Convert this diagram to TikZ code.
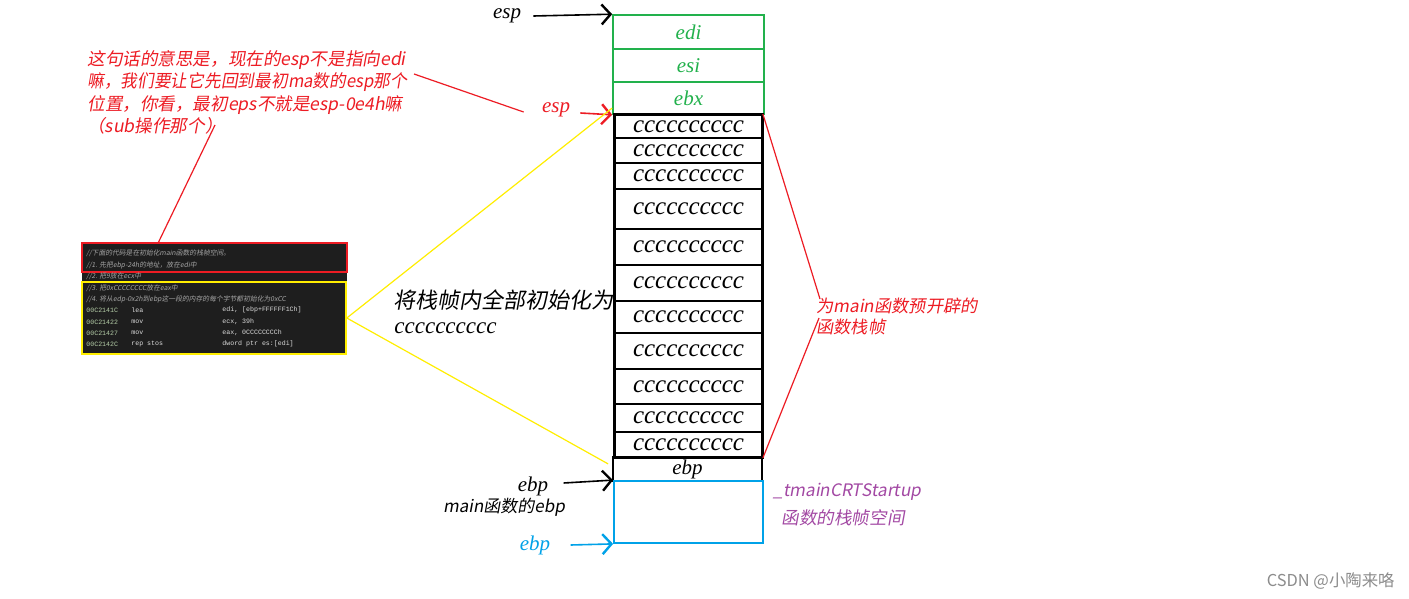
\documentclass[tikz,border=0pt]{standalone}
\usepackage{fontspec}
\setmainfont{Liberation Serif}
\newfontfamily\cjk[FakeSlant=0.18]{Noto Sans CJK SC}
\newfontfamily\cjkup{Noto Sans CJK SC}
\newfontfamily\mono{Liberation Mono}
\usetikzlibrary{arrows.meta,fit,calc}
\definecolor{pgreen}{RGB}{34,177,76}
\definecolor{pblue}{RGB}{0,162,232}
\definecolor{ppurple}{RGB}{163,73,164}
\definecolor{pyellow}{RGB}{255,238,0}
\definecolor{pred}{RGB}{237,28,36}
\definecolor{codebg}{RGB}{30,30,30}
\definecolor{codecmt}{RGB}{165,165,165}
\definecolor{codeaddr}{RGB}{181,206,168}
\definecolor{codetxt}{RGB}{220,220,220}
\definecolor{wm}{RGB}{140,140,140}
\begin{document}
\begin{tikzpicture}[x=0.5pt,y=-0.5pt,
  greenbox/.style={draw=pgreen,line width=0.8pt,minimum width=75.5pt,inner sep=0pt,text=pgreen,font=\itshape\fontsize{10.5}{12}\selectfont},
  ccbox/.style={draw=black,line width=0.9pt,minimum width=73.5pt,inner sep=0pt,font=\itshape\fontsize{12.5}{13}\selectfont},
  lab/.style={inner sep=0pt,font=\itshape\fontsize{10.5}{12}\selectfont},
  cjklab/.style={inner sep=0pt,font=\cjk\fontsize{8.8}{11.2}\selectfont,align=left},
  ptr/.style={line width=0.8pt,-{Straight Barb[length=4.5pt,width=10pt,line width=1.2pt]}},
  cmt/.style={anchor=west,inner sep=0pt,text=codecmt,font=\cjk\fontsize{3.4}{4}\selectfont},
  cde/.style={anchor=west,inner sep=0pt,font=\mono\fontsize{3.3}{4}\selectfont},
  conn/.style={line width=0.6pt}
]
\useasboundingbox (0,0) rectangle (1409,599);
\fill[white] (0,0) rectangle (1409,599);

% green register boxes
\node[greenbox,minimum height=17pt] (edi) at (688.5,32) {edi};
\node[greenbox,minimum height=16.5pt] (esi) at (688.5,65.5) {esi};
\node[greenbox,minimum height=16pt] (ebx) at (688.5,98) {ebx};

% cccc rows
\foreach \i/\ya/\yb in {1/115/138,2/138/163,3/163/189,4/189/229,5/229/265,6/265/301,7/301/333,8/333/369,9/369/404,10/404/432,11/432/457}
  \node[ccbox,minimum height={(\yb-\ya)*0.5pt}] (r\i) at (688.5,{(\ya+\yb)/2}) {cccccccccc};
\node[fit=(r1)(r11),draw,line width=1.5pt,inner sep=0pt] (frame) {};

% ebp box and caller frame
\node[draw,line width=0.7pt,minimum width=74.5pt,minimum height=12pt,inner sep=0pt,lab] (ebpbox) at (687.5,469) {ebp};
\node[draw=pblue,line width=0.9pt,minimum width=74.5pt,minimum height=31pt,inner sep=0pt] (caller) at (688.5,512) {};

% pointer labels
\node[lab] (espT) at (507,16) {esp};
\node[lab,text=pred] (espR) at (556,110) {esp};
\node[lab] (ebpM) at (533,486) {ebp};
\node[inner sep=0pt,font=\cjk\fontsize{8.5}{11}\selectfont] (mainebp) at (504,507) {main函数的ebp};
\node[lab,text=pblue] (ebpB) at (535,545) {ebp};

\draw[ptr] (espT.east)+(12,0) -- (edi.north west);
\draw[ptr,pred] (espR.east)+(10,3) -- (ebx.south west);
\draw[ptr] (ebpM.east)+(15,-3) -- (caller.north west);
\draw[ptr,pblue] (ebpB.east)+(20,0) -- (caller.south west);

% red annotation
\node[cjklab,text=pred,anchor=north west] (ann) at (87,50) {这句话的意思是，现在的esp不是指向edi\\\scalebox{0.95}[1]{嘛，我们要让它先回到最初ma数的esp那个}\\位置，你看，最初eps不就是esp-0e4h嘛\\（sub操作那个）};

% code block
\node[fill=codebg,minimum width=132.5pt,minimum height=56pt,inner sep=0pt] (code) at (214.5,299) {};
\node[draw=pred,line width=0.8pt,minimum width=132.5pt,minimum height=14.5pt,inner sep=0pt] (rbox) at (214.5,257.5) {};
\node[draw=pyellow,line width=0.8pt,minimum width=132pt,minimum height=36pt,inner sep=0pt] (ybox) at (214,318) {};
\node[cmt] (c0) at (86,253) {//下面的代码是在初始化main函数的栈帧空间。};
\node[cmt] (c1) at (86,265) {//1. 先把ebp-24h的地址，放在edi中};
\node[cmt] (c2) at (86,276) {//2. 把9放在ecx中};
\node[cmt] (c3) at (86,288) {//3. 把0xCCCCCCCC放在eax中};
\node[cmt] (c4) at (86,299) {//4. 将从edp-0x2h到ebp这一段的内存的每个字节都初始化为0xCC};
\foreach \y/\ad/\op/\arg in {310/00C2141C/lea/{edi, [ebp+FFFFFF1Ch]},322/00C21422/mov/{ecx, 39h},333/00C21427/mov/{eax, 0CCCCCCCCh},344/00C2142C/rep stos/{dword ptr es:[edi]}}{
  \node[cde,text=codeaddr] at (86,\y) {\ad};
  \node[cde,text=codetxt] at (131,\y) {\op};
  \node[cde,text=codetxt] at (222,\y) {\arg};
}

% red connectors of the annotation
\coordinate (annA) at (414,74);
\coordinate (annB) at (215,125);
\draw[conn,pred] (annA) -- ([xshift=-9pt,yshift=-1pt]espR.west);
\draw[conn,pred] (annB) -- ($(rbox.north west)!0.29!(rbox.north east)$);

% yellow connectors
\draw[conn,pyellow] (ybox.east) -- ([xshift=-1pt,yshift=3pt]r1.north west);
\draw[conn,pyellow] (ybox.east) -- ([xshift=-3pt,yshift=-3pt]r11.south west);

% init label
\node[inner sep=0pt,anchor=west,font=\cjk\fontsize{11}{12}\selectfont] (initlab) at (393,300) {将栈帧内全部初始化为};
\node[inner sep=0pt,anchor=west,font=\itshape\fontsize{11.5}{12}\selectfont] (initcc) at (394,328) {cccccccccc};

% right red label
\node[cjklab,text=pred,anchor=west,font=\cjk\fontsize{8.6}{10.5}\selectfont] (mainlab) at (816,316) {为main函数预开辟的\\函数栈帧};
\coordinate (m1) at (820,299);
\coordinate (m2) at (819,318);
\draw[conn,pred] (r1.north east) -- (m1);
\draw[conn,pred] (m2) -- (r11.south east);

% purple label
\node[inner sep=0pt,anchor=west,text=ppurple,font=\cjk\fontsize{8.6}{10}\selectfont] (tmain) at (773,492) {\_tmainCRTStartup};
\node[inner sep=0pt,anchor=west,text=ppurple,font=\cjk\fontsize{8.8}{10}\selectfont] (tframe) at (781,518) {函数的栈帧空间};

% watermark
\node[inner sep=0pt,anchor=east,text=wm,font=\cjkup\fontsize{8.2}{10}\selectfont] (wmk) at (1395,581) {CSDN @小陶来咯};
\end{tikzpicture}
\end{document}
